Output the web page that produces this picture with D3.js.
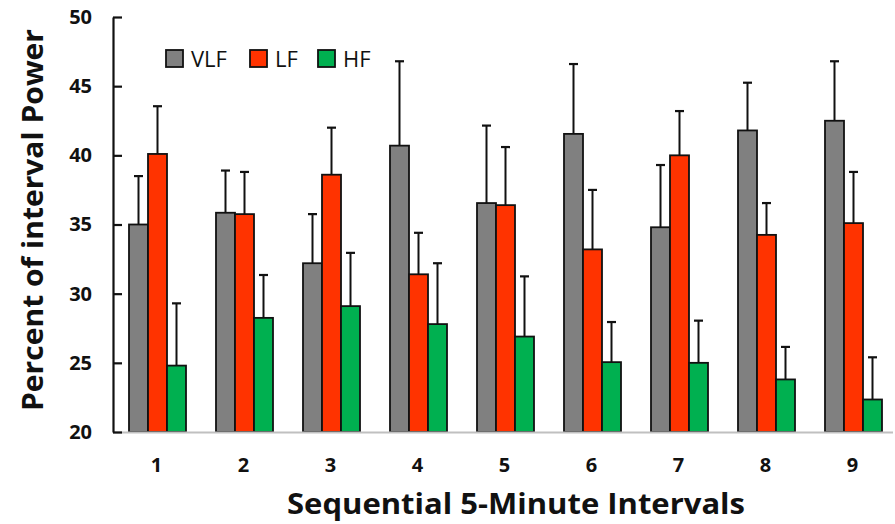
<!DOCTYPE html>
<html>
<head>
<meta charset="utf-8">
<script src="https://cdn.jsdelivr.net/npm/d3@7/dist/d3.min.js"></script>
<style>
  html, body { margin: 0; padding: 0; background: #fff; }
  svg { display: block; font-family: "Open Sans", "Noto Sans", sans-serif; }
</style>
</head>
<body>
<svg id="chart" width="895" height="524"></svg>
<script>
// ---- data ----
const categories = ["1", "2", "3", "4", "5", "6", "7", "8", "9"];
const seriesNames = ["VLF", "LF", "HF"];
const vlf    = [35.0, 35.85, 32.2, 40.7, 36.55, 41.55, 34.8, 41.8, 42.5];
const vlfErr = [3.5, 3.05, 3.55, 6.1, 5.6, 5.05, 4.5, 3.45, 4.3];
const lf     = [40.1, 35.75, 38.6, 31.4, 36.4, 33.2, 40.0, 34.25, 35.1];
const lfErr  = [3.45, 3.05, 3.4, 3.0, 4.2, 4.3, 3.2, 2.3, 3.7];
const hf     = [24.8, 28.25, 29.1, 27.8, 26.9, 25.05, 25.0, 23.8, 22.35];
const hfErr  = [4.5, 3.1, 3.85, 4.4, 4.35, 2.9, 3.05, 2.35, 3.05];
const yTicks = [20, 25, 30, 35, 40, 45, 50];
const colors = ["#808080", "#FF3300", "#00B050"];

const values = [vlf, lf, hf];
const errors = [vlfErr, lfErr, hfErr];

// ---- layout ----
const svg = d3.select("#chart");
const mLeft = 113, mRight = 896, mTop = 17, mBottom = 432;

const x = d3.scaleBand().domain(categories).range([mLeft, mRight]).padding(0);
const xs = d3.scaleBand().domain(seriesNames).range([16, 73]).padding(0);
const y = d3.scaleLinear().domain([20, 50]).range([mBottom, mTop]);

// bars
const rows = [];
categories.forEach((c, i) => {
  seriesNames.forEach((s, j) => {
    rows.push({ c, s, j, v: values[j][i], e: errors[j][i] });
  });
});

const g = svg.append("g");

// error bars (drawn under bars)
const eg = g.selectAll("g.err").data(rows).join("g").attr("class", "err");
eg.append("line")
  .attr("x1", d => x(d.c) + xs(d.s) + xs.bandwidth() / 2)
  .attr("x2", d => x(d.c) + xs(d.s) + xs.bandwidth() / 2)
  .attr("y1", d => y(d.v))
  .attr("y2", d => y(d.v + d.e))
  .attr("stroke", "#111").attr("stroke-width", 2);
eg.append("line")
  .attr("x1", d => x(d.c) + xs(d.s) + xs.bandwidth() / 2 - 4.5)
  .attr("x2", d => x(d.c) + xs(d.s) + xs.bandwidth() / 2 + 4.5)
  .attr("y1", d => y(d.v + d.e))
  .attr("y2", d => y(d.v + d.e))
  .attr("stroke", "#111").attr("stroke-width", 2.2);

g.selectAll("rect.bar").data(rows).join("rect").attr("class", "bar")
  .attr("x", d => x(d.c) + xs(d.s))
  .attr("width", xs.bandwidth())
  .attr("y", d => y(d.v))
  .attr("height", d => y(20) - y(d.v))
  .attr("fill", d => colors[d.j])
  .attr("stroke", "#111").attr("stroke-width", 1.8);

// x axis line (gray)
svg.append("line")
  .attr("x1", mLeft).attr("x2", 893)
  .attr("y1", mBottom + 0.5).attr("y2", mBottom + 0.5)
  .attr("stroke", "#c0c0c0").attr("stroke-width", 2);

// y axis
const yAxis = d3.axisLeft(y).tickValues(yTicks).tickSize(-9).tickPadding(21).tickSizeOuter(0);
const ya = svg.append("g").attr("transform", `translate(${mLeft},0)`).call(yAxis);
ya.select(".domain").attr("stroke", "#111").attr("stroke-width", 2.2);
ya.selectAll(".tick line").attr("stroke", "#111").attr("stroke-width", 2.2);
ya.selectAll(".tick text")
  .attr("font-family", "'Open Sans', sans-serif")
  .attr("font-weight", "bold").attr("font-size", 20).attr("fill", "#111");

// x axis labels
const xAxis = d3.axisBottom(x).tickSize(0).tickPadding(26);
const xa = svg.append("g").attr("transform", `translate(0,${mBottom})`).call(xAxis);
xa.select(".domain").remove();
xa.selectAll(".tick text")
  .attr("font-family", "'Open Sans', sans-serif")
  .attr("font-weight", "bold").attr("font-size", 20).attr("fill", "#111");

// axis titles
svg.append("text")
  .attr("x", 516).attr("y", 514)
  .attr("text-anchor", "middle")
  .attr("font-weight", "bold").attr("font-size", 29).attr("fill", "#111")
  .attr("textLength", 458).attr("lengthAdjust", "spacingAndGlyphs")
  .text("Sequential 5-Minute Intervals");

svg.append("text")
  .attr("transform", "translate(43,220) rotate(-90)")
  .attr("text-anchor", "middle")
  .attr("font-weight", "bold").attr("font-size", 29).attr("fill", "#111")
  .attr("textLength", 382).attr("lengthAdjust", "spacingAndGlyphs")
  .text("Percent of interval Power");

// legend
const legX = [166, 250, 318];
const lg = svg.append("g").selectAll("g").data(seriesNames).join("g")
  .attr("transform", (d, i) => `translate(${legX[i]},50)`);
lg.append("rect").attr("width", 17).attr("height", 17)
  .attr("fill", (d, i) => colors[i]).attr("stroke", "#111").attr("stroke-width", 1.8);
lg.append("text").attr("x", 25).attr("y", 16.5)
  .attr("font-size", 22).attr("fill", "#111")
  .text(d => d);
</script>
</body>
</html>
